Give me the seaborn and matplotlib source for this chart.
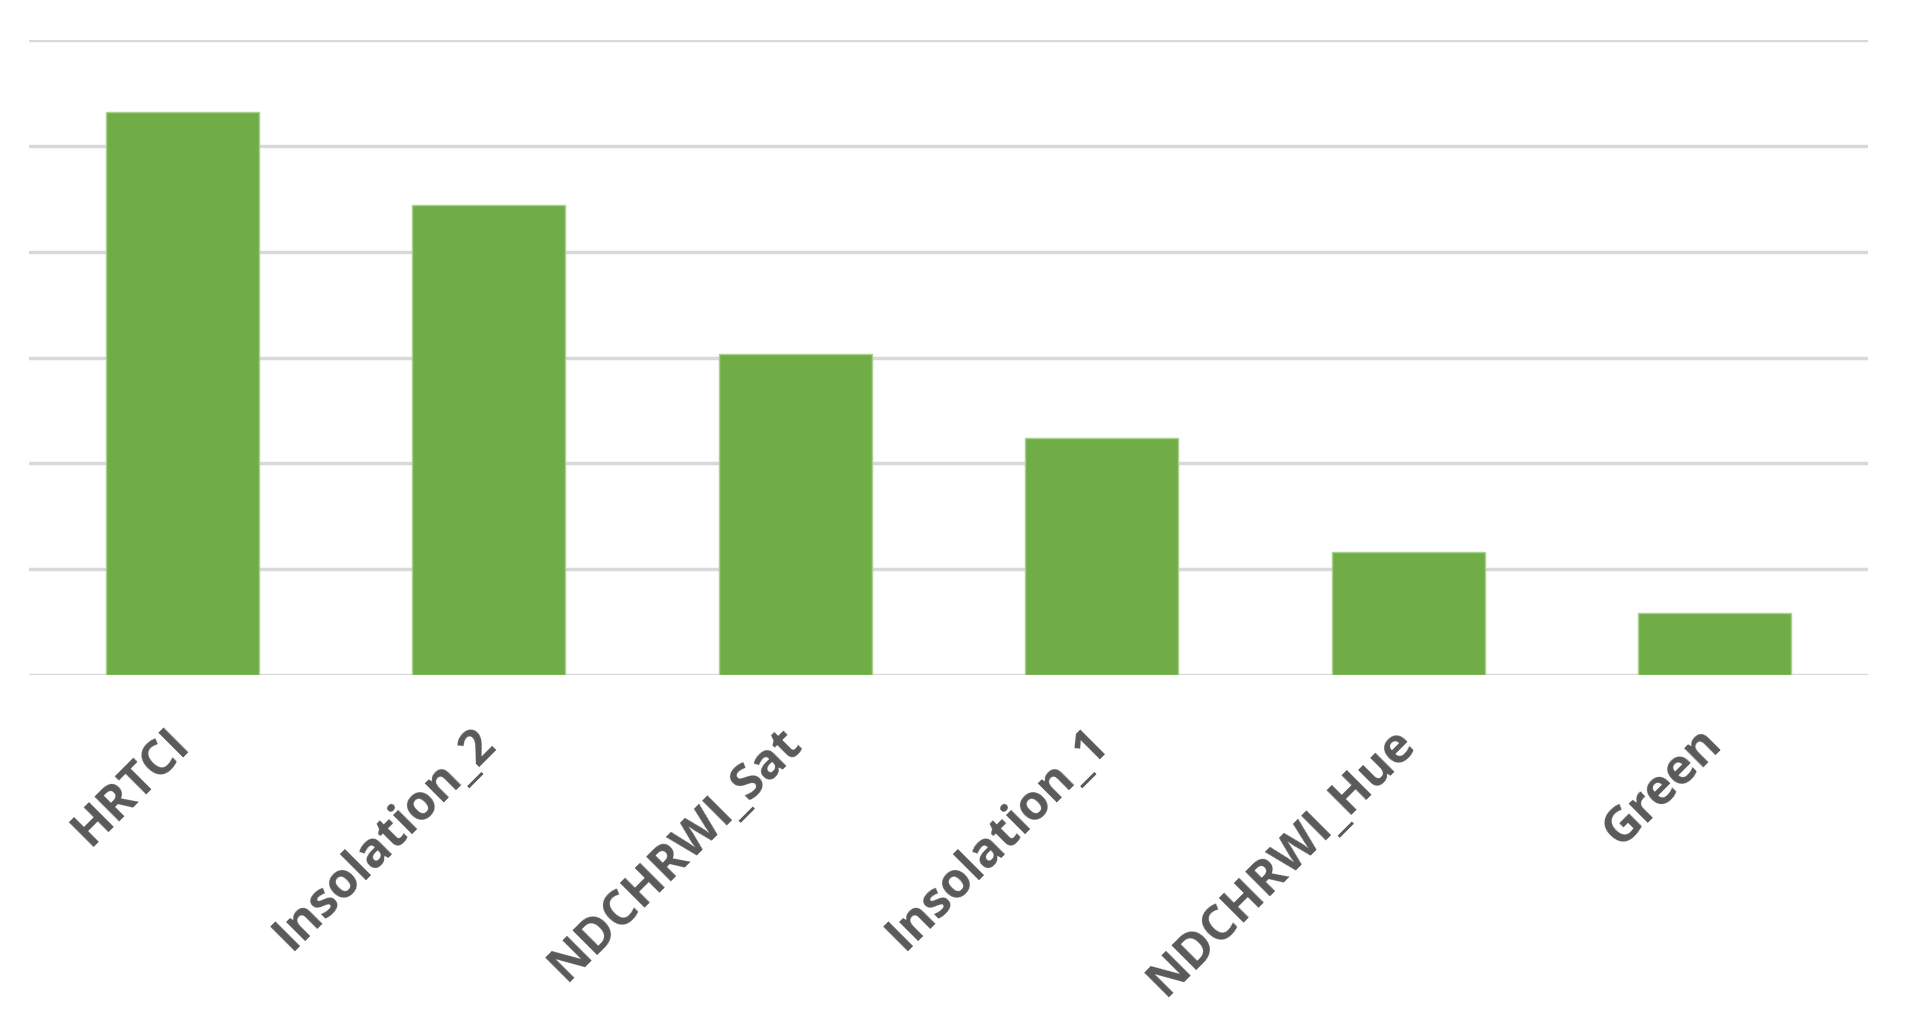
import matplotlib
matplotlib.use("Agg")
import matplotlib.pyplot as plt
import seaborn as sns
import pandas as pd

features = ["HRTCI", "Insolation_2", "NDCHRWI_Sat", "Insolation_1", "NDCHRWI_Hue", "Green"]
importance = [5.32, 4.44, 3.03, 2.24, 1.16, 0.59]

sns.set_theme(style="white")
plt.rcParams["font.family"] = ["Open Sans", "DejaVu Sans"]

df = pd.DataFrame({"Feature": features, "Importance": importance})

fig = plt.figure(figsize=(19.06, 10.26), dpi=100)
ax = fig.add_axes([0.0152, 0.342, 0.9648, 0.619])

sns.barplot(data=df, x="Feature", y="Importance", color="#70AD47", saturation=1,
            width=0.5, edgecolor="#a9d18e", linewidth=1, ax=ax, zorder=3)

ax.set_ylim(0, 6)
ax.set_xlim(-0.5, len(features) - 0.5)
ax.set_yticks(range(0, 7))
ax.set_yticklabels([])
ax.yaxis.grid(True, color="#d9d9d9", linewidth=2.5)
ax.set_axisbelow(True)
for s in ax.spines.values():
    s.set_visible(False)
ax.tick_params(axis="both", length=0)
ax.set_xlabel("")
ax.set_ylabel("")
ax.set_xticks(range(len(features)))
ax.set_xticklabels(features, rotation=45, ha="right", va="center",
                   rotation_mode="anchor", fontsize=35, fontweight="bold", color="#595959")
ax.tick_params(axis="x", pad=44)

fig.savefig("out.png", dpi=100, facecolor="white")
